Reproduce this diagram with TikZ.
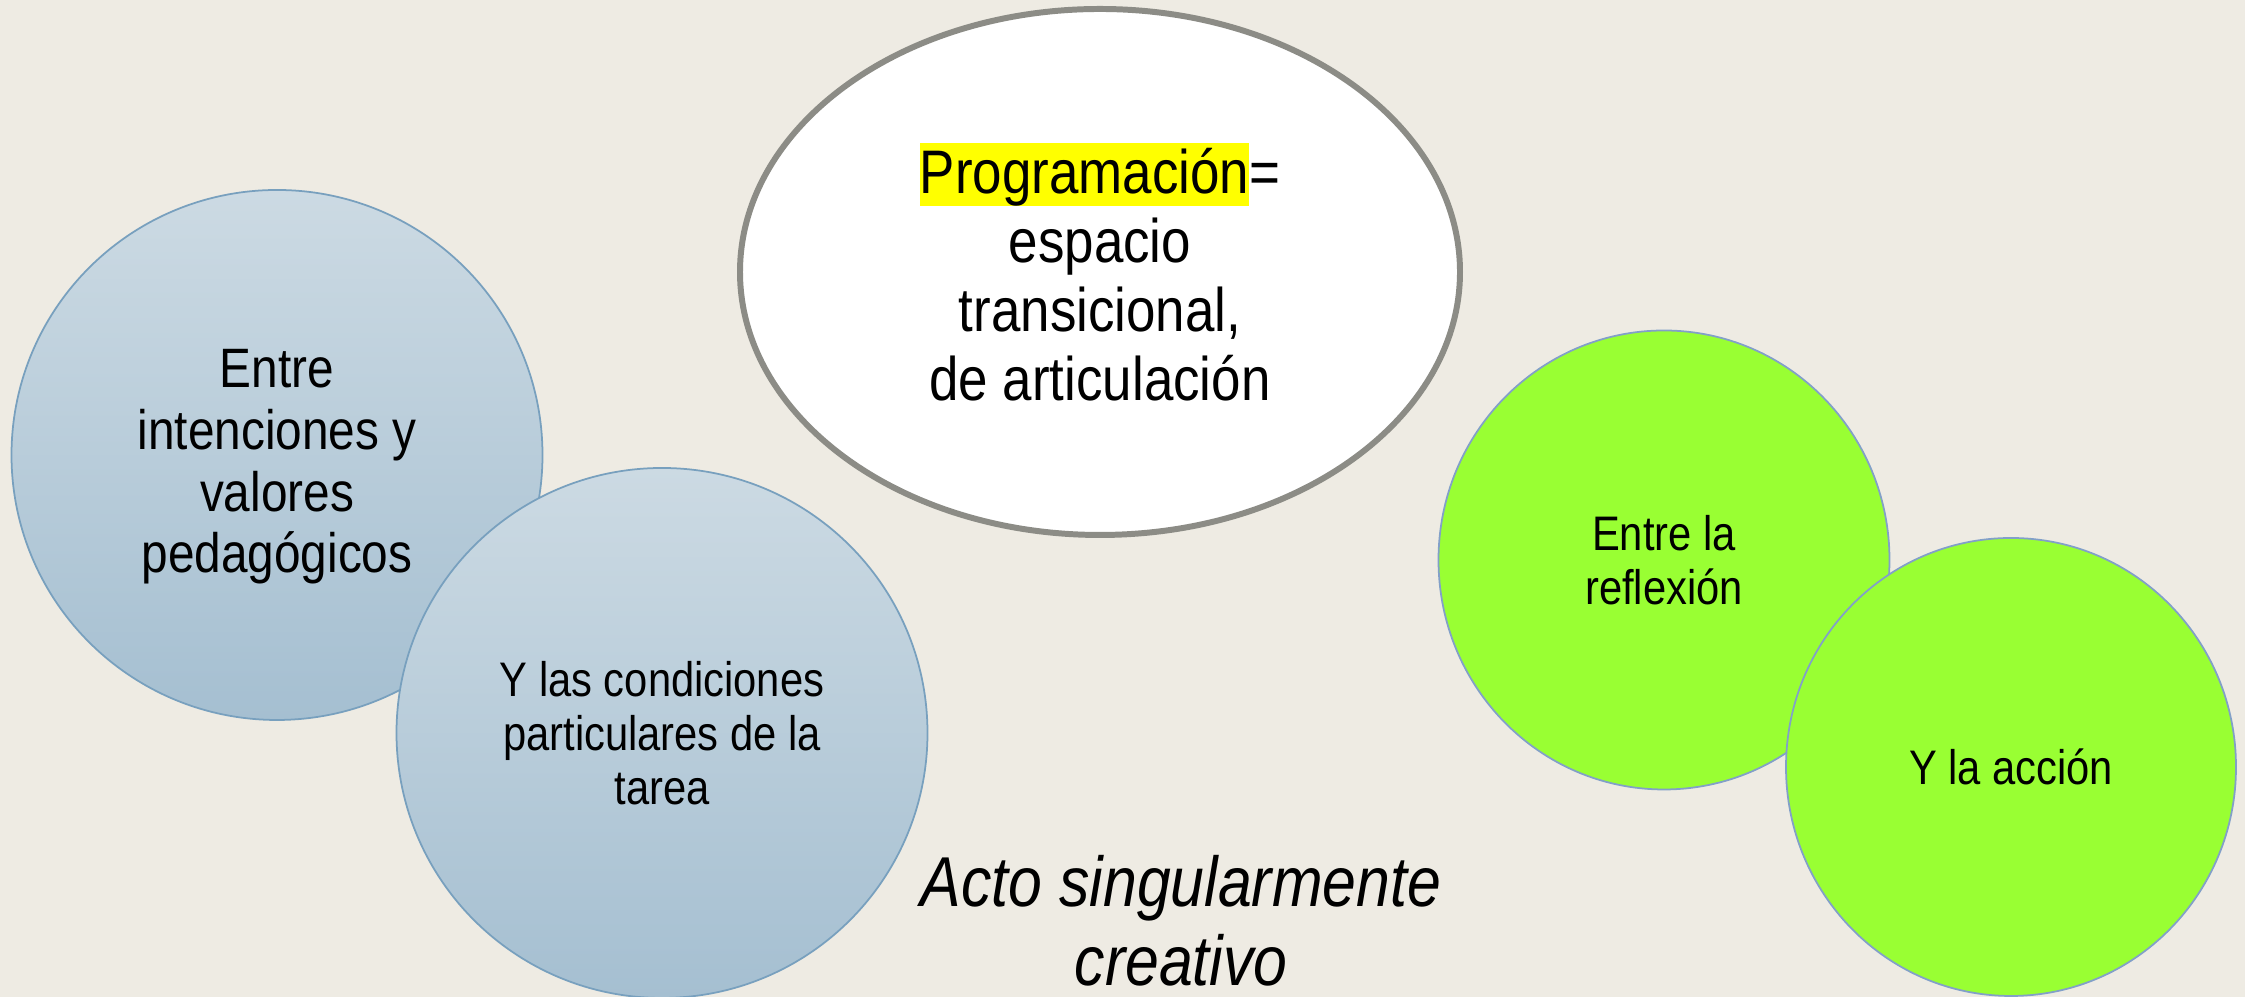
\documentclass[tikz,border=0pt]{standalone}
\usepackage{fontspec}
\setmainfont{Liberation Sans}[FakeStretch=0.86]
\usepackage{tikz}
\usetikzlibrary{shapes.geometric}
\definecolor{bgbeige}{RGB}{238,235,227}
\definecolor{bluetop}{RGB}{204,218,227}
\definecolor{bluebot}{RGB}{165,191,209}
\definecolor{blueline}{RGB}{120,160,190}
\definecolor{limegreen}{RGB}{153,255,51}
\definecolor{greenline}{RGB}{130,160,200}
\definecolor{ovalgray}{RGB}{140,140,134}
\definecolor{hiyellow}{RGB}{255,255,0}

\begin{document}
\begin{tikzpicture}[
  bluecirc/.style={ellipse, draw=blueline, line width=0.5pt, top color=bluetop, bottom color=bluebot,
    inner sep=0pt, minimum width=5.31cm, minimum height=5.3cm, align=center},
  greencirc/.style={ellipse, draw=greenline, line width=0.5pt, fill=limegreen,
    inner sep=0pt, minimum width=4.51cm, minimum height=4.59cm, align=center,
    font=\fontsize{13.8}{15.4}\selectfont}]
  \fill[bgbeige](0,0) rectangle (22.45,9.97);
  \useasboundingbox (0,0) rectangle (22.45,9.97);

  %% Oval
  \node[ellipse, draw=ovalgray, line width=1.7pt, fill=white, inner sep=0pt,
    minimum width=7.2cm, minimum height=5.26cm, align=center,
    font=\fontsize{17.5}{19.6}\selectfont] (prog) at (11.00,7.25)
    {{\fboxsep=0pt\colorbox{hiyellow}{\rule[-0.21em]{0pt}{1.03em}Programación}}=\\espacio\\transicional,\\de articulación};

  %% Left pair
  \node[bluecirc, font=\fontsize{15.8}{17.6}\selectfont] (intenc) at (2.77,5.42)
    {\rule{0pt}{0.6em}\\[-0.6em]Entre\\intenciones y\\valores\\pedagógicos};
  \node[bluecirc, font=\fontsize{13.8}{15.4}\selectfont] (cond) at (6.62,2.64)
    {Y las condiciones\\particulares de la\\tarea};

  %% Right pair
  \node[greencirc] (reflex) at (16.64,4.37) {Entre la\\reflexión};
  \node[greencirc, minimum width=4.5cm, minimum height=4.58cm] (accion) at (20.11,2.30) {Y la acción};

  \node[align=center, font=\fontsize{20.1}{22.4}\selectfont\itshape] (acto) at (11.81,0.76)
    {Acto singularmente\\creativo};
\end{tikzpicture}
\end{document}
